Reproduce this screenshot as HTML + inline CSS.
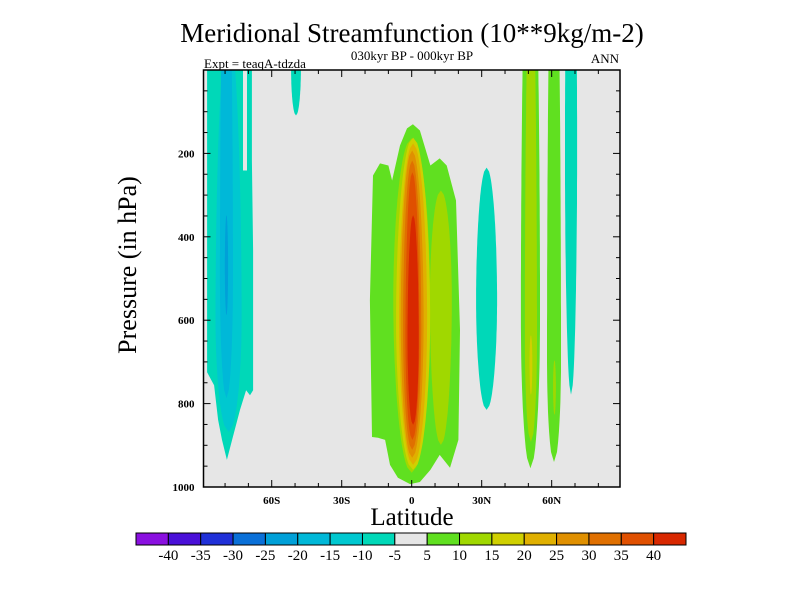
<!DOCTYPE html>
<html><head><meta charset="utf-8"><style>
html,body{margin:0;padding:0;background:#fff;}
svg text{font-family:"Liberation Serif",serif;fill:#000;}
</style></head><body>
<svg id="chart" width="800" height="600" viewBox="0 0 800 600" xmlns="http://www.w3.org/2000/svg">
<text x="412" y="42" font-size="27" text-anchor="middle">Meridional Streamfunction (10**9kg/m-2)</text>
<text x="412" y="60" font-size="13" text-anchor="middle">030kyr BP - 000kyr BP</text>
<text x="204" y="68" font-size="13">Expt = teaqA-tdzda</text>
<text x="619" y="63" font-size="13" text-anchor="end">ANN</text>
<text x="412" y="525" font-size="25" text-anchor="middle">Latitude</text>
<text transform="translate(136,265) rotate(-90)" font-size="26" text-anchor="middle">Pressure (in hPa)</text>
<g id="plot"></g>
<g id="axes"></g>
<g id="cbar"></g>
</svg>
<script>
const boxColors = ["#8a10e0","#4a10d8","#2030d8","#0a70d8","#00a0d8","#00b8d8","#00c8d0","#00d8b8","#e6e6e6","#60e020","#a0d800","#d0d000","#e0b000","#e09000","#e07000","#e05000","#d82800"];
const cbarLabels = ["-40","-35","-30","-25","-20","-15","-10","-5","5","10","15","20","25","30","35","40"];
const yTicks = [200,400,600,800,1000];
const xTickLats = [-60,-30,0,30,60];
const xTickLabels = ["60S","30S","0","30N","60N"];
// spindle-shaped contour regions (data units: latitude deg, pressure hPa)
const shapeBox  = [9,    10,   11,  12,  13,  14,  15,  16,  10,   7,    6,    5,    4,    7,    7,    9,    10,   11,   9,    10,   7];
const shapeLat  = [0,    0,    0.6, 0.6, 0.2, 0.2, 0.3, 0.6, 12.5, 0,  -78.5,-79.4,-79.4,-49.6, 32.1, 50.9, 51.1, 51.1, 61.0, 61.2, 68.3];
const shapeHW   = [0,    7.9,  7.3, 6.0, 4.9, 3.9, 3.0, 2.4, 4.7,  0,    5.6,  2.8,  0.7,  2.1,  4.5,  4.1,  2.6,  0.6,  3.0,  0.6,  2.6];
const shapeTop  = [0,    164,  162, 176, 193, 217, 245, 348, 289,  0,   -100, -400,  348, -200,  234, -500, -300,  636, -500,  696, -600];
const shapeBot  = [0,    966,  959, 947, 930, 911, 887, 851, 899,  0,    868,  787,  588,  109,  815,  955,  892,  779,  940,  827,  779];
const shapeWide = [0,    550,  600, 600, 600, 620, 640, 650, 550,  0,    600,  500,  470,    0,  553,  600,  650,  700,  700,  760,  200];
// irregular outer contours (polygons, lat/pressure pairs)
const centralGreenLat = [-17,-17.9,-16.6,-13.6,-10,-8.4,-5,-2,0.5,3.5,8,12,15,19,20.7,20,16.4,12,8,3.5,-0.7,-5.9,-9.3,-11.4,-14.4];
const centralGreenP   = [880,552,253,224,229,265,181,140,130,145,229,212,229,313,624,887,954,923,959,988,993,978,947,887,882];
const southTealLat = [-87.7,-72.3,-72.3,-70.6,-70.6,-68.5,-68.5,-68.0,-68.0,-69.3,-71.0,-73.6,-77.0,-79.2,-81.3,-83.0,-84.7,-87.7];
const southTealP   = [0,0,241,241,0,0,217,432,768,780,768,815,887,935,887,839,756,725];

const L=203.5,R=620,T=70,B=487;
const xs = lat => 411.7 + lat*2.333;
const ys = p => T + p*(B-T)/1000;
const NS="http://www.w3.org/2000/svg";
const plot=document.getElementById('plot');
const axes=document.getElementById('axes');
const cbar=document.getElementById('cbar');
function mk(tag,attrs,parent){const e=document.createElementNS(NS,tag);for(const k in attrs)e.setAttribute(k,attrs[k]);parent.appendChild(e);return e;}

const defs=mk('defs',{},document.getElementById('chart'));
const cp=mk('clipPath',{id:'clip'},defs);
mk('rect',{x:L,y:T,width:R-L,height:B-T},cp);
const bg=mk('rect',{x:L,y:T,width:R-L,height:B-T,fill:boxColors[8]},plot);


const g=mk('g',{'clip-path':'url(#clip)'},plot);

function polyPath(lats,ps){return lats.map((la,i)=>(i?'L':'M')+xs(la).toFixed(1)+','+ys(ps[i]).toFixed(1)).join('')+'Z';}
function spindle(i){
  const top=shapeTop[i],bot=shapeBot[i],w=shapeWide[i],c=shapeLat[i],hw=shapeHW[i];
  const N=60,left=[],right=[];
  for(let k=0;k<=N;k++){
    const p=top+(bot-top)*k/N;
    const t=p<w?(w-p)/(w-top):(p-w)/(bot-w);
    const h=hw*Math.sqrt(Math.max(0,1-Math.pow(Math.min(1,t),1.9)));
    left.push([c-h,p]);right.push([c+h,p]);
  }
  const pts=left.concat(right.reverse());
  return pts.map((q,j)=>(j?'L':'M')+xs(q[0]).toFixed(1)+','+ys(q[1]).toFixed(1)).join('')+'Z';
}
const order=[...shapeBox.keys()].sort((a,b)=>Math.abs(shapeBox[a]-8)-Math.abs(shapeBox[b]-8));
for(const i of order){
  let d;
  if(i===0) d=polyPath(centralGreenLat,centralGreenP);
  else if(i===9) d=polyPath(southTealLat,southTealP);
  else d=spindle(i);
  const e=mk('path',{d:d,fill:boxColors[shapeBox[i]]},g);
  
  
}
const fr=mk('rect',{x:L,y:T,width:R-L,height:B-T,fill:'none',stroke:'#000','stroke-width':1.5},axes);


for(let lat=-80;lat<=80;lat+=10){
  const x=xs(lat),maj=lat%30===0,len=maj?7:4;
  mk('line',{x1:x,y1:B,x2:x,y2:B-len,stroke:'#000'},axes);
  mk('line',{x1:x,y1:T,x2:x,y2:T+len,stroke:'#000'},axes);
}
xTickLats.forEach((lat,i)=>{
  const t=mk('text',{x:xs(lat),y:B+17,'font-size':11,'font-weight':'bold','text-anchor':'middle'},axes);
  t.textContent=xTickLabels[i];
  
  
});
for(let p=50;p<=1000;p+=50){
  const y=ys(p),maj=p%200===0,len=maj?7:4;
  mk('line',{x1:L,y1:y,x2:L+len,y2:y,stroke:'#000'},axes);
  mk('line',{x1:R,y1:y,x2:R-len,y2:y,stroke:'#000'},axes);
}
yTicks.forEach(p=>{
  const t=mk('text',{x:L-9,y:ys(p)+4,'font-size':11,'font-weight':'bold','text-anchor':'end'},axes);
  t.textContent=String(p);
  
  
});
const cx0=136,cx1=686,cy=533,ch=12,bw=(cx1-cx0)/boxColors.length;
boxColors.forEach((c,i)=>{
  const r=mk('rect',{x:cx0+i*bw,y:cy,width:bw,height:ch,fill:c,stroke:'#000','stroke-width':1},cbar);
  
  
});
cbarLabels.forEach((s,i)=>{
  const t=mk('text',{x:cx0+(i+1)*bw,y:cy+ch+15,'font-size':15,'text-anchor':'middle'},cbar);
  t.textContent=s;
  
  
});
</script>
</body></html>
